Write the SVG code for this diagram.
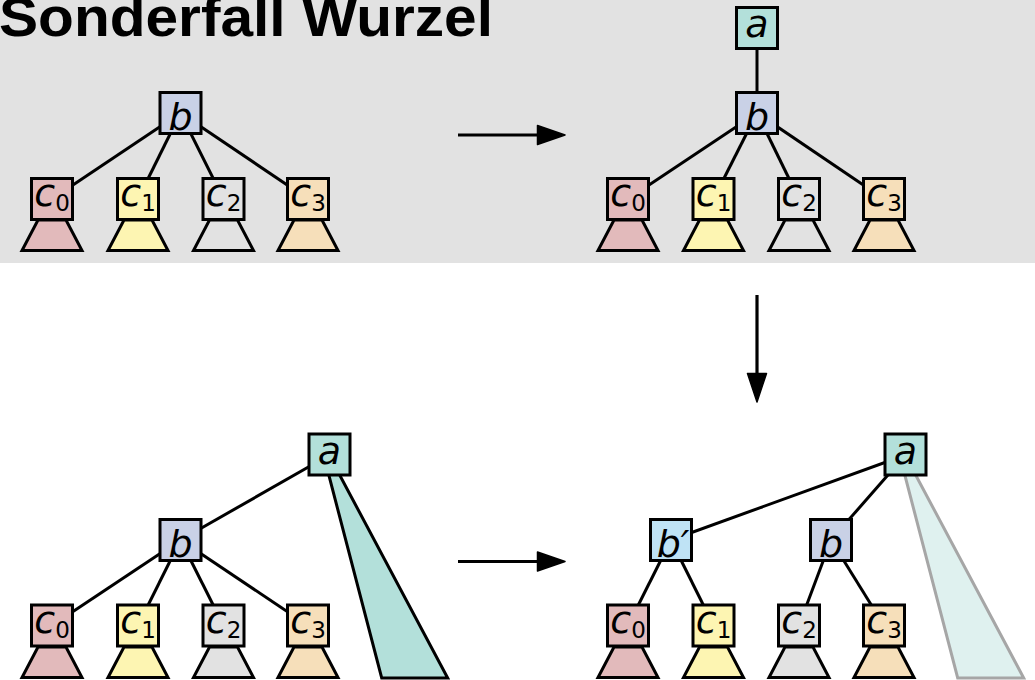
<svg xmlns="http://www.w3.org/2000/svg" width="1035" height="680" viewBox="0 0 1035 680">
<style>
.box{stroke:#000;stroke-width:3}
.tri{stroke:#000;stroke-width:3;stroke-linejoin:miter}
.edge{stroke:#000;stroke-width:3;fill:none}
.arr{stroke:#000;stroke-width:3.2;fill:none}
.head{fill:#000;stroke:#000;stroke-width:1.5;stroke-linejoin:round}
.lbl{font-family:"DejaVu Sans",sans-serif;font-style:italic;font-size:38px;text-anchor:middle;fill:#000}
.sub{font-style:normal;font-size:23px}
.title{font-family:"Liberation Sans",Arial,sans-serif;font-weight:bold;font-size:56px;fill:#000}
.fa{fill:#b3e0da}.fb{fill:#c9d1e6}.fbp{fill:#bfe3f5}
.f0{fill:#e2babb}.f1{fill:#fdf5b2}.f2{fill:#e2e2e2}.f3{fill:#f6dfba}
</style>
<defs>
<g id="t0"><polygon class="tri f0" points="-14,0 14,0 30,30.5 -30,30.5"/></g>
<g id="t1"><polygon class="tri f1" points="-14,0 14,0 30,30.5 -30,30.5"/></g>
<g id="t2"><polygon class="tri f2" points="-14,0 14,0 30,30.5 -30,30.5"/></g>
<g id="t3"><polygon class="tri f3" points="-14,0 14,0 30,30.5 -30,30.5"/></g>
</defs>
<rect x="0" y="0" width="1035" height="263" fill="#e2e2e2"/>
<text class="title" x="-1" y="36" textLength="494" lengthAdjust="spacingAndGlyphs">Sonderfall Wurzel</text>

<g id="arrows">
<line class="arr" x1="458" y1="135" x2="540" y2="135"/>
<polygon class="head" points="537.5,125.5 565,135 537.5,144.5"/>
<line class="arr" x1="757" y1="295" x2="757" y2="376"/>
<polygon class="head" points="747.5,373.5 766.5,373.5 757,402"/>
<line class="arr" x1="458" y1="561.5" x2="540" y2="561.5"/>
<polygon class="head" points="537.5,552 565,561.5 537.5,571"/>
</g>

<g id="connectors">
<line class="edge" x1="180.5" y1="113" x2="52" y2="199"/>
<line class="edge" x1="180.5" y1="113" x2="138" y2="199"/>
<line class="edge" x1="180.5" y1="113" x2="223.5" y2="199"/>
<line class="edge" x1="180.5" y1="113" x2="308" y2="199"/>
<line class="edge" x1="757" y1="28" x2="757" y2="113"/>
<line class="edge" x1="757" y1="113" x2="628" y2="199"/>
<line class="edge" x1="757" y1="113" x2="713.5" y2="199"/>
<line class="edge" x1="757" y1="113" x2="799" y2="199"/>
<line class="edge" x1="757" y1="113" x2="884" y2="199"/>
<line class="edge" x1="329.5" y1="455" x2="180.5" y2="540"/>
<line class="edge" x1="180.5" y1="540" x2="52" y2="625.5"/>
<line class="edge" x1="180.5" y1="540" x2="138" y2="625.5"/>
<line class="edge" x1="180.5" y1="540" x2="223.5" y2="625.5"/>
<line class="edge" x1="180.5" y1="540" x2="308" y2="625.5"/>
<line class="edge" x1="905.5" y1="455" x2="671" y2="540"/>
<line class="edge" x1="905.5" y1="455" x2="831" y2="540"/>
<line class="edge" x1="671" y1="540" x2="628" y2="625.5"/>
<line class="edge" x1="671" y1="540" x2="713.5" y2="625.5"/>
<line class="edge" x1="831" y1="540" x2="799" y2="625.5"/>
<line class="edge" x1="831" y1="540" x2="884" y2="625.5"/>
</g>

<g id="subtree-a-left">
<polygon points="327.5,470 337,470 447.7,678 381.7,678" fill="#b3e0da" stroke="#000" stroke-width="3"/>
</g>
<g id="subtree-a-right">
<polygon points="903.5,470 913,470 1023.7,678 957.7,678" fill="#dff1ef" stroke="#a6a6a6" stroke-width="3"/>
</g>

<g id="p1-b"><rect class="box fb" x="160" y="92.5" width="41" height="41"/><text class="lbl" x="180.5" y="129.5">b</text></g>
<g id="p1-c0"><use href="#t0" x="52" y="220"/><rect class="box f0" x="31.5" y="178.5" width="41" height="41"/><text class="lbl" x="52" y="206">c<tspan class="sub" dy="5">0</tspan></text></g>
<g id="p1-c1"><use href="#t1" x="138" y="220"/><rect class="box f1" x="117.5" y="178.5" width="41" height="41"/><text class="lbl" x="138" y="206">c<tspan class="sub" dy="5">1</tspan></text></g>
<g id="p1-c2"><use href="#t2" x="223.5" y="220"/><rect class="box f2" x="203" y="178.5" width="41" height="41"/><text class="lbl" x="223.5" y="206">c<tspan class="sub" dy="5">2</tspan></text></g>
<g id="p1-c3"><use href="#t3" x="308" y="220"/><rect class="box f3" x="287.5" y="178.5" width="41" height="41"/><text class="lbl" x="308" y="206">c<tspan class="sub" dy="5">3</tspan></text></g>

<g id="p2-a"><rect class="box fa" x="736.5" y="7.5" width="41" height="41"/><text class="lbl" x="757" y="37">a</text></g>
<g id="p2-b"><rect class="box fb" x="736.5" y="92.5" width="41" height="41"/><text class="lbl" x="757" y="129.5">b</text></g>
<g id="p2-c0"><use href="#t0" x="628" y="220"/><rect class="box f0" x="607.5" y="178.5" width="41" height="41"/><text class="lbl" x="628" y="206">c<tspan class="sub" dy="5">0</tspan></text></g>
<g id="p2-c1"><use href="#t1" x="713.5" y="220"/><rect class="box f1" x="693" y="178.5" width="41" height="41"/><text class="lbl" x="713.5" y="206">c<tspan class="sub" dy="5">1</tspan></text></g>
<g id="p2-c2"><use href="#t2" x="799" y="220"/><rect class="box f2" x="778.5" y="178.5" width="41" height="41"/><text class="lbl" x="799" y="206">c<tspan class="sub" dy="5">2</tspan></text></g>
<g id="p2-c3"><use href="#t3" x="884" y="220"/><rect class="box f3" x="863.5" y="178.5" width="41" height="41"/><text class="lbl" x="884" y="206">c<tspan class="sub" dy="5">3</tspan></text></g>

<g id="p3-a"><rect class="box fa" x="309" y="434" width="41" height="41"/><text class="lbl" x="329.5" y="463.5">a</text></g>
<g id="p3-b"><rect class="box fb" x="160" y="519.5" width="41" height="41"/><text class="lbl" x="180.5" y="556.5">b</text></g>
<g id="p3-c0"><use href="#t0" x="52" y="647"/><rect class="box f0" x="31.5" y="605" width="41" height="41"/><text class="lbl" x="52" y="632.5">c<tspan class="sub" dy="5">0</tspan></text></g>
<g id="p3-c1"><use href="#t1" x="138" y="647"/><rect class="box f1" x="117.5" y="605" width="41" height="41"/><text class="lbl" x="138" y="632.5">c<tspan class="sub" dy="5">1</tspan></text></g>
<g id="p3-c2"><use href="#t2" x="223.5" y="647"/><rect class="box f2" x="203" y="605" width="41" height="41"/><text class="lbl" x="223.5" y="632.5">c<tspan class="sub" dy="5">2</tspan></text></g>
<g id="p3-c3"><use href="#t3" x="308" y="647"/><rect class="box f3" x="287.5" y="605" width="41" height="41"/><text class="lbl" x="308" y="632.5">c<tspan class="sub" dy="5">3</tspan></text></g>

<g id="p4-a"><rect class="box fa" x="885" y="434" width="41" height="41"/><text class="lbl" x="905.5" y="463.5">a</text></g>
<g id="p4-bp"><rect class="box fbp" x="650.5" y="519.5" width="41" height="41"/><text class="lbl" x="673" y="556.5">b′</text></g>
<g id="p4-b"><rect class="box fb" x="810.5" y="519.5" width="41" height="41"/><text class="lbl" x="831" y="556.5">b</text></g>
<g id="p4-c0"><use href="#t0" x="628" y="647"/><rect class="box f0" x="607.5" y="605" width="41" height="41"/><text class="lbl" x="628" y="632.5">c<tspan class="sub" dy="5">0</tspan></text></g>
<g id="p4-c1"><use href="#t1" x="713.5" y="647"/><rect class="box f1" x="693" y="605" width="41" height="41"/><text class="lbl" x="713.5" y="632.5">c<tspan class="sub" dy="5">1</tspan></text></g>
<g id="p4-c2"><use href="#t2" x="799" y="647"/><rect class="box f2" x="778.5" y="605" width="41" height="41"/><text class="lbl" x="799" y="632.5">c<tspan class="sub" dy="5">2</tspan></text></g>
<g id="p4-c3"><use href="#t3" x="884" y="647"/><rect class="box f3" x="863.5" y="605" width="41" height="41"/><text class="lbl" x="884" y="632.5">c<tspan class="sub" dy="5">3</tspan></text></g>
</svg>
